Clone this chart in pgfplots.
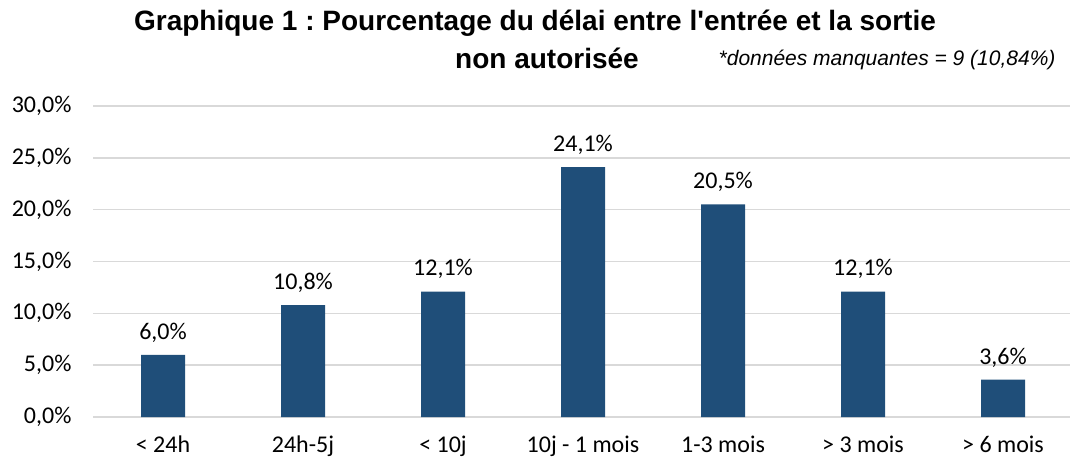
\documentclass[border=0pt]{standalone}
\usepackage{fontspec}
\setmainfont{Carlito}
\newfontfamily\titlefont{Liberation Sans}
\usepackage{pgfplots}
\pgfplotsset{compat=1.18}
\definecolor{barblue}{HTML}{1F4E79}
\definecolor{gridgray}{HTML}{D9D9D9}
\frenchspacing
\begin{document}
\begin{tikzpicture}[x=1pt,y=1pt]
\path[use as bounding box] (0,0) rectangle (1070,458);
\begin{axis}[
  at={(93pt,41pt)}, anchor=south west,
  scale only axis, width=980pt, height=311pt,
  xmin=-0.5, xmax=6.5, ymin=0, ymax=30,
  axis line style={draw=none},
  major tick length=0pt,
  ymajorgrids, grid style={gridgray, line width=1.5pt},
  ytick={0,5,...,30},
  xtick={0,...,6},
  xticklabels={{< 24h},{24h-5j},{< 10j},{10j - 1 mois},{1-3 mois},{> 3 mois},{> 6 mois}},
  yticklabel={\pgfmathprintnumber[fixed,fixed zerofill,precision=1,use comma,assume math mode=true]{\tick}\%},
  ticklabel style={font=\fontsize{24}{28}\selectfont, text=black},
  yticklabel style={xshift=-18pt},
  xticklabel style={yshift=-15pt},
  nodes near coords={\pgfmathprintnumber[fixed,fixed zerofill,precision=1,use comma,assume math mode=true]{\pgfplotspointmeta}\%},
  every node near coord/.append style={font=\fontsize{24}{28}\selectfont, text=black, yshift=9pt},
  clip=false,
]
\addplot[ybar, bar width=44pt, fill=barblue, draw=none] coordinates {
  (0,6.0) (1,10.8) (2,12.1) (3,24.1) (4,20.5) (5,12.1) (6,3.6)
};
\end{axis}
\node[font=\titlefont\bfseries\fontsize{28}{32}\selectfont] at (535,435) {Graphique 1 : Pourcentage du délai entre l'entrée et la sortie};
\node[font=\titlefont\bfseries\fontsize{28}{32}\selectfont] at (547,400) {non autorisée};
\node[font=\titlefont\itshape\fontsize{21}{24}\selectfont, anchor=east] at (1059,398) {*données manquantes = 9 (10,84\%)};
\end{tikzpicture}
\end{document}
